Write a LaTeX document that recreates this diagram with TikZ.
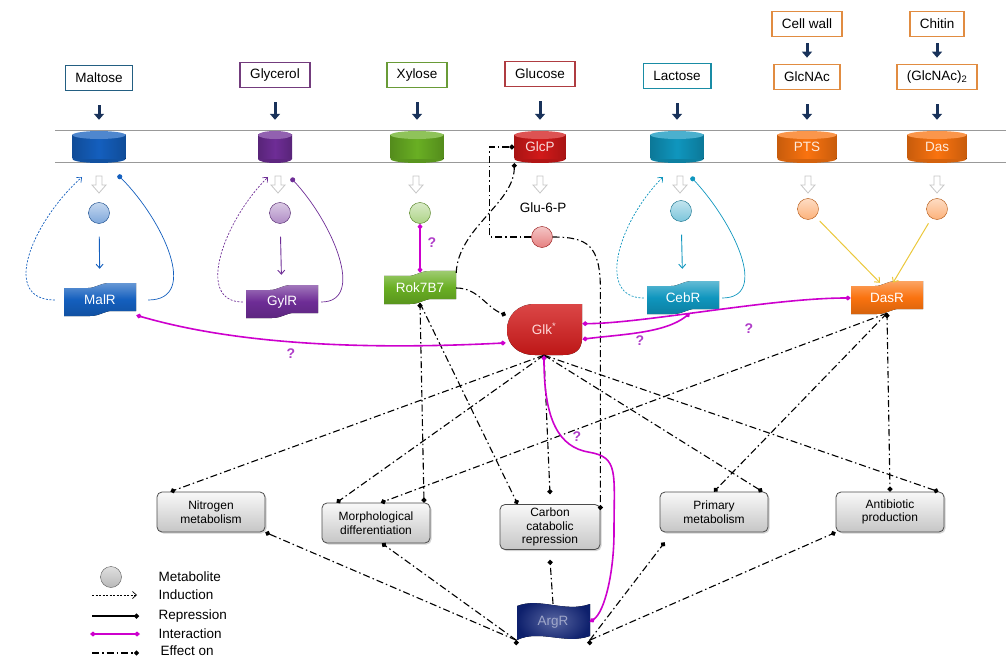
\documentclass[tikz,border=0pt]{standalone}
\usepackage{fontspec}
\setmainfont{Liberation Sans}
\usetikzlibrary{arrows.meta,shadows}
\tikzset{>/.tip={Straight Barb[length=4pt,width=7pt]}}
\tikzset{*/.tip={Circle[length=5pt]}}
\tikzset{diamond/.tip={Diamond[length=6pt,width=5pt]}}
\definecolor{malblue}{RGB}{20,95,190}
\definecolor{glypurple}{RGB}{110,45,150}
\definecolor{xylgreen}{RGB}{105,175,35}
\definecolor{glcred}{RGB}{210,25,25}
\definecolor{lacteal}{RGB}{15,150,190}
\definecolor{nagorange}{RGB}{250,115,15}
\definecolor{maledge}{RGB}{35,95,130}
\definecolor{glyedge}{RGB}{115,60,125}
\definecolor{xyledge}{RGB}{105,155,55}
\definecolor{glcedge}{RGB}{175,60,65}
\definecolor{lacedge}{RGB}{25,140,165}
\definecolor{nagedge}{RGB}{225,140,65}
\definecolor{navyarrow}{RGB}{25,50,90}
\definecolor{argblue}{RGB}{15,35,120}
\definecolor{intmag}{RGB}{205,0,205}
\definecolor{qmark}{RGB}{175,60,200}
\definecolor{yelarrow}{RGB}{235,200,60}
% name, centre, half width, colour, label
\newcommand\carrier[5]{%
  \begin{scope}[shift={#2}]
    \fill[#4!85!black] (0,12) ellipse [x radius=#3, y radius=4];
    \fill[left color=#4!80!black, right color=#4!80!black, middle color=#4] (-#3,-12) rectangle (#3,12);
    \fill[#4!75!white] (0,-12) ellipse [x radius=#3, y radius=4];
  \end{scope}
  \node[lab, text=white!85!#4, minimum width=2*#3, minimum height=32] (#1) at #2 {#5};}
% name, centre, colour, label
\newcommand\regulator[4]{%
  \begin{scope}[shift={#2}]
    \fill[top color=#3!65!white, bottom color=#3!85!black, middle color=#3]
      (-36,-12) -- (-12,-12) .. controls (-4,-12) and (0,-17) .. (10,-17) -- (36,-17)
      -- (36,11) -- (12,11) .. controls (4,11) and (0,16) .. (-10,16) -- (-36,16) -- cycle;
  \end{scope}
  \node[lab, text=white, minimum width=72, minimum height=30] (#1) at #2 {#4};}
\begin{document}
\begin{tikzpicture}[x=1pt,y=-1pt,
  lab/.style={font=\fontsize{13.5}{15}\selectfont},
  sugar/.style={lab, draw=#1, line width=1.7pt, fill=white, inner xsep=10pt, minimum height=25},
  metab/.style={circle, draw=#1!70!black, top color=#1!25!white, bottom color=#1!55!white, minimum size=21, inner sep=0pt},
  feed/.style={navyarrow, line width=3pt, -{Triangle[length=6pt,width=10pt]}},
  hollow/.style={draw=gray!45, fill=white, line width=0.8pt},
  proc/.style={draw=black!70, line width=0.8pt, rounded corners=5pt, top color=gray!5, bottom color=gray!45,
    minimum width=108, minimum height=40, align=center, font=\fontsize{12}{13.5}\selectfont,
    drop shadow={opacity=.35, shadow xshift=1.5pt, shadow yshift=-1.5pt}},
  effect/.style={line width=1.1pt, dash pattern=on 7pt off 3pt on 1.5pt off 3pt, -*},
  induce/.style={line width=0.7pt, dash pattern=on 2pt off 1.5pt, ->},
  repress/.style={line width=0.7pt, -*},
  interact/.style={intmag, line width=1.6pt, diamond-diamond},
  qm/.style={text=qmark, font=\bfseries\fontsize{14}{14}\selectfont}]
\useasboundingbox (0,0) rectangle (1006,660);

\node[sugar=maledge] (malt) at (99,78) {Maltose};
\node[sugar=glyedge] (glyt) at (275,75) {Glycerol};
\node[sugar=xyledge] (xylt) at (417,75) {Xylose};
\node[sugar=glcedge] (glct) at (540,74) {Glucose};
\node[sugar=lacedge] (lact) at (677,76) {Lactose};
\node[sugar=nagedge] (wall) at (807,24) {Cell wall};
\node[sugar=nagedge] (nagt) at (807,77) {GlcNAc};
\node[sugar=nagedge] (chit) at (937,24) {Chitin};
\node[sugar=nagedge] (nag2t) at (937,77) {(GlcNAc)\textsubscript{2}};

\draw[gray!80, line width=1pt] (55,131) -- (1006,131) (55,163) -- (1006,163);
\carrier{malc}{(99,147)}{26.5}{malblue}{}
\carrier{glyc}{(275,147)}{17}{glypurple}{}
\carrier{xylc}{(417,147)}{26.5}{xylgreen}{}
\carrier{glcp}{(540,147)}{25.5}{glcred}{GlcP}
\carrier{lacc}{(677,147)}{26.5}{lacteal}{}
\carrier{pts}{(807,147)}{29.5}{nagorange}{PTS}
\carrier{das}{(937,147)}{29.5}{nagorange}{Das}

\foreach \a/\b in {malt/malc,glyt/glyc,xylt/xylc,glct/glcp,lact/lacc,nagt/pts,nag2t/das}
  \draw[feed, shorten <=14pt, shorten >=11pt] (\a) -- (\b);
\foreach \a/\b in {wall/nagt,chit/nag2t}
  \draw[feed, shorten <=6pt, shorten >=6pt] (\a) -- (\b);
\foreach \x in {99,278,416,540,680,808,937}
  \draw[hollow] (\x-3,176) -- (\x+3,176) -- (\x+3,185) -- (\x+7,185) -- (\x,193) -- (\x-7,185) -- (\x-3,185) -- cycle;

\node[metab=malblue] (malm) at (99,213) {};
\node[metab=glypurple] (glym) at (280,213) {};
\node[metab=xylgreen] (xylm) at (420,213) {};
\node[lab] (g6pl) at (543,208) {Glu-6-P};
\node[metab=glcred] (g6p) at (542,237) {};
\node[metab=lacteal] (lacm) at (681,211) {};
\node[metab=nagorange] (ptsm) at (808,209) {};
\node[metab=nagorange] (dasm) at (937,209) {};

\regulator{malr}{(100,300)}{malblue}{MalR}
\regulator{gylr}{(282,302)}{glypurple}{GylR}
\regulator{rok}{(420,288)}{xylgreen}{Rok7B7}
\regulator{cebr}{(683,298)}{lacteal}{CebR}
\regulator{dasr}{(887,298)}{nagorange}{DasR}

\fill[top color=glcred!80!white, bottom color=glcred!90!black]
  (582,304) -- (582,338) .. controls (582,350) and (575,355) .. (563,355) -- (535,355)
  .. controls (518,355) and (507,345) .. (507,330) .. controls (507,315) and (518,304) .. (535,304) -- cycle;
\node[lab, text=red!15!white, minimum width=76, minimum height=52] (glk) at (544,329) {Glk\textsuperscript{*}};
\fill[inner color=argblue!70!white, outer color=argblue!90!black]
  (517,606) .. controls (540,597) and (565,613) .. (590,604) -- (590,636)
  .. controls (565,645) and (540,629) .. (517,640) -- cycle;
\node[lab, text=argblue!40!white, minimum width=73, minimum height=36] (argr) at (553,622) {ArgR};

\node[proc] (nit) at (211,512) {Nitrogen\\metabolism};
\node[proc] (morph) at (376,523) {Morphological\\differentiation};
\node[proc, minimum width=100, minimum height=45] (ccr) at (550,527) {Carbon\\catabolic\\repression};
\node[proc] (prim) at (714,512) {Primary\\metabolism};
\node[proc] (anti) at (890,512) {Antibiotic\\production};

\draw[->, malblue, line width=.9pt, shorten <=13pt, shorten >=16pt] (malm) -- (malr);
\draw[->, glypurple, line width=.9pt, shorten <=13pt, shorten >=12pt] (glym) -- (gylr);
\draw[->, lacteal, line width=.9pt, shorten <=13pt, shorten >=14pt] (lacm) -- (cebr);
\draw[->, yelarrow, line width=1pt, shorten <=6pt] (ptsm) -- ([xshift=-7pt]dasr.north);
\draw[->, yelarrow, line width=1pt, shorten <=6pt] (dasm) -- ([xshift=6pt]dasr.north);

\coordinate (malin) at (82,177);
\coordinate (malout) at (118,175);
\coordinate (glyin) at (268,177);
\coordinate (glyout) at (291,178);
\coordinate (lacin) at (663,177);
\coordinate (lacout) at (691,177);
\draw[induce, malblue] ([xshift=-9pt]malr.west) .. controls +(-55,0) and +(-50,45) .. (malin);
\draw[repress, malblue] ([xshift=12pt]malr.east) .. controls +(52,0) and +(45,45) .. (malout);
\draw[induce, glypurple] ([xshift=-3pt]gylr.west) .. controls +(-48,0) and +(-45,45) .. (glyin);
\draw[repress, glypurple] ([xshift=3pt]gylr.east) .. controls +(45,0) and +(42,45) .. (glyout);
\draw[induce, lacteal] ([xshift=-3pt]cebr.west) .. controls +(-48,0) and +(-45,45) .. (lacin);
\draw[repress, lacteal] ([xshift=3pt]cebr.east) .. controls +(48,0) and +(42,45) .. (lacout);

\draw[effect] (g6p.west) -| ([xshift=-25pt]glcp.west) -- (glcp.west);
\draw[effect] (rok.north east) .. controls +(2,-45) and +(0,40) .. (glcp.south west);
\draw[effect] (rok.east) .. controls +(22,0) and +(-20,-8) .. (glk.160);
\draw[effect] (g6p.east) .. controls +(35,0) and +(0,-45) .. ([yshift=214pt]ccr.north east) -- ([yshift=-6pt]ccr.north east);
\draw[effect] (rok.south) edge ([xshift=4pt]rok.south |- morph.north) edge ([xshift=18pt]ccr.north west);
\draw[effect] (glk.south) edge ([xshift=14pt]nit.north west) edge ([xshift=15pt]morph.north west)
  edge ([yshift=10pt]ccr.north) edge ([xshift=-6pt]prim.north east) edge ([xshift=-6pt]anti.north east);
\draw[effect] (dasr.south) edge ([xshift=5pt]morph.north) edge (prim.north) edge (anti.north);
\draw[effect] (argr.south west) edge (nit.south east) edge ([xshift=6pt]morph.south);
\draw[effect] (argr.north) -- ([yshift=-10pt]ccr.south);
\draw[effect] (argr.south east) edge ([shift={(5pt,-10pt)}]prim.south west) edge (anti.south west);

\draw[interact] (xylm) -- (rok.north);
\draw[interact] (malr.south east) .. controls +(120,35) and +(-100,5) .. (glk.200);
\draw[interact] (dasr.west) .. controls +(-80,0) and +(60,0) .. (glk.8);
\draw[interact] ([xshift=7pt]cebr.south) .. controls +(-25,20) and +(40,-5) .. (glk.-15);
\draw[interact] (glk.south) .. controls +(0,65) and +(-30,-5) .. ++(45,97)
  .. controls +(30,5) and +(0,-60) .. ++(25,80) .. controls +(0,40) and +(15,-10) .. (argr.east);
\node[qm] (q1) at (291,354) {?};
\node[qm] (q2) at (432,243) {?};
\node[qm] (q3) at (640,341) {?};
\node[qm] (q4) at (749,329) {?};
\node[qm] (q5) at (577,437) {?};

\node[metab=gray] (legm) at (111,577) {};
\node[lab, anchor=west] (lmet) at (155,577) {Metabolite};
\node[lab, anchor=west] (lind) at (155,595) {Induction};
\node[lab, anchor=west] (lrep) at (155,616) {Repression};
\node[lab, anchor=west] (lint) at (155,634) {Interaction};
\node[lab, anchor=west] (leff) at (157,651) {Effect on};
\draw[induce, black] ([xshift=-63pt]lind.west) -- ([xshift=-18pt]lind.west);
\draw[repress, black, line width=1.2pt] ([xshift=-63pt]lrep.west) -- ([xshift=-16pt]lrep.west);
\draw[interact] ([xshift=-65pt]lint.west) -- ([xshift=-15pt]lint.west);
\draw[effect] ([xshift=-65pt,yshift=-2pt]leff.west) -- ([xshift=-18pt,yshift=-2pt]leff.west);
\end{tikzpicture}
\end{document}
